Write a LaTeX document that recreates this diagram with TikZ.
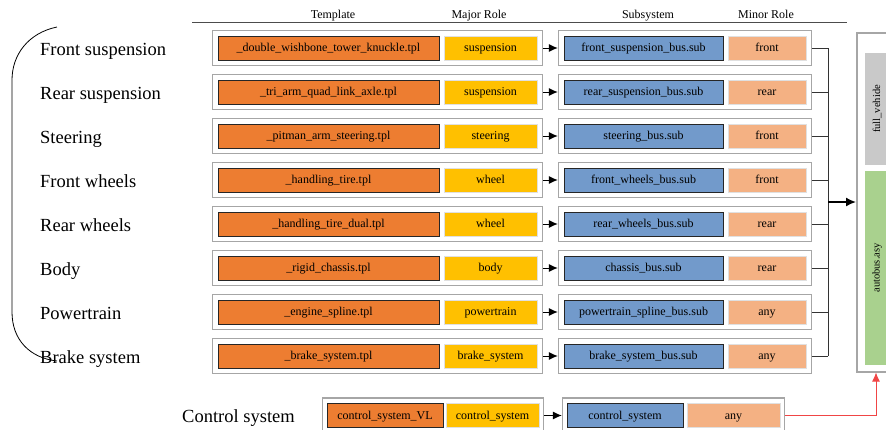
\documentclass[tikz,border=0pt]{standalone}
\usepackage{fontspec}
\setmainfont{Liberation Serif}
\usetikzlibrary{positioning, fit, calc, arrows.meta}
\definecolor{clTPL}  {HTML}{ED7D31}
\definecolor{clROLE} {HTML}{FFC000}
\definecolor{clSUB}  {HTML}{729ACB}
\definecolor{clMINOR}{HTML}{F4B183}
\definecolor{clVEH}  {HTML}{C9C9C9}
\definecolor{clASY}  {HTML}{A9D18E}
\definecolor{bOUT}   {HTML}{A6A6A6}
\definecolor{bCTRL}  {HTML}{F04545}

\begin{document}
\begin{tikzpicture}[
    x=1pt, y=-1pt,
    every node/.style={font=\fontsize{12}{14}\selectfont, inner sep=0pt},
    cell/.style={minimum height=24pt, line width=0.8pt, align=center,
                 text height=9.5pt, text depth=2.5pt},
    tplbox/.style={cell, draw=black!85, fill=clTPL, minimum width=#1},
    rolebox/.style={cell, draw=black!12, fill=clROLE, minimum width=#1},
    subbox/.style={cell, draw=black!85, fill=clSUB, minimum width=#1},
    minorbox/.style={cell, draw=black!12, fill=clMINOR, minimum width=#1},
    outerbox/.style={draw=bOUT, line width=1.5pt, inner sep=5pt},
    sidelabel/.style={font=\fontsize{18.5}{22}\selectfont, anchor=west,
                      text height=14pt, text depth=0pt},
    header/.style={anchor=base},
    arrow/.style={-{Latex[length=9pt,width=8pt]}, line width=1pt, draw=black},
    busline/.style={line width=1pt, draw=black!80},
    busarrow/.style={-{Latex[length=10pt,width=9pt]}, line width=1.6pt, draw=black},
    ctrlarrow/.style={-{Latex[length=9pt,width=8pt]}, line width=1pt, draw=bCTRL}
]

% ── CANVAS ─────────────────────────────────────────────────────
\useasboundingbox (0,0) rectangle (886,429);
\clip (0,0) rectangle (886,429);

% ── HEADER ─────────────────────────────────────────────────────
\draw[black!70, line width=0.8pt] (192,22) -- (847,22);
\node[header] (hdTpl)   at (333,18) {Template};
\node[header] (hdRole)  at (479,18) {Major Role};
\node[header] (hdSub)   at (648,18) {Subsystem};
\node[header] (hdMinor) at (766,18) {Minor Role};

% ── LEFT BRACE ─────────────────────────────────────────────────
\draw[line width=0.8pt] (57,27) .. controls (28,33) and (12,55) .. (12,80)
    -- (12,312) .. controls (12,340) and (30,358) .. (57,361);

% ── ASSEMBLY ───────────────────────────────────────────────────
\node[outerbox, anchor=north west, minimum width=50pt,
      minimum height=339pt] (vehicle) at (856,32) {};
\node[fill=clVEH, rotate=90, minimum width=112pt, minimum height=24pt,
      font=\fontsize{10.5}{12}\selectfont] (fullveh) at (877,109)
    {full\_vehide};
\node[fill=clASY, rotate=90, minimum width=194pt, minimum height=24pt,
      font=\fontsize{10.5}{12}\selectfont] (asy) at (877,268)
    {autobus.asy};

\coordinate (bus) at (828,202);

% ── ROWS ───────────────────────────────────────────────────────
\foreach \lbl/\tpl/\role/\sub/\minor [count=\i] in {
    Front suspension/\_double\_wishbone\_tower\_knuckle.tpl/suspension/front\_suspension\_bus.sub/front,
    Rear suspension/\_tri\_arm\_quad\_link\_axle.tpl/suspension/rear\_suspension\_bus.sub/rear,
    Steering/\_pitman\_arm\_steering.tpl/steering/steering\_bus.sub/front,
    Front wheels/\_handling\_tire.tpl/wheel/front\_wheels\_bus.sub/front,
    Rear wheels/\_handling\_tire\_dual.tpl/wheel/rear\_wheels\_bus.sub/rear,
    Body/\_rigid\_chassis.tpl/body/chassis\_bus.sub/rear,
    Powertrain/\_engine\_spline.tpl/powertrain/powertrain\_spline\_bus.sub/any,
    Brake system/\_brake\_system.tpl/brake\_system/brake\_system\_bus.sub/any}
{
    \pgfmathsetmacro{\ry}{4+44*\i}
    \node[sidelabel] (lbl\i) at (40,\ry) {\lbl};
    \node[tplbox=221pt]   (tpl\i)   at (328.5,\ry) {\tpl};
    \node[rolebox=93pt]   (role\i)  at (490.5,\ry) {\role};
    \node[subbox=159pt]   (sub\i)   at (643.5,\ry) {\sub};
    \node[minorbox=78pt]  (minor\i) at (767,\ry)   {\minor};
    \node[outerbox, fit=(tpl\i)(role\i)]  (left\i)  {};
    \node[outerbox, fit=(sub\i)(minor\i)] (right\i) {};
    \draw[arrow] (left\i.east) -- (right\i.west);
    \draw[busline] (right\i.east) -- (right\i.east -| bus);
}

\draw[busline] (right1.east -| bus) -- (right8.east -| bus);
\draw[busarrow] (bus) -- (bus -| vehicle.west);

% ── CONTROL SYSTEM ─────────────────────────────────────────────
\node[sidelabel] (lblCtrl) at (182,415.5) {Control system};
\node[tplbox=116pt]  (tplCtrl)   at (385,415.5)   {control\_system\_VL};
\node[rolebox=93pt]  (roleCtrl)  at (492.5,415.5) {control\_system};
\node[subbox=116pt]  (subCtrl)   at (625,415.5)   {control\_system};
\node[minorbox=93pt] (minorCtrl) at (733.5,415.5) {any};
\node[outerbox, inner xsep=4pt, fit=(tplCtrl)(roleCtrl)] (leftCtrl)  {};
\node[outerbox, inner xsep=4pt, fit=(subCtrl)(minorCtrl)] (rightCtrl) {};
\draw[arrow] (leftCtrl.east) -- (rightCtrl.west);
\draw[ctrlarrow] (rightCtrl.east) -| ([xshift=20pt]vehicle.south west);

\end{tikzpicture}
\end{document}
